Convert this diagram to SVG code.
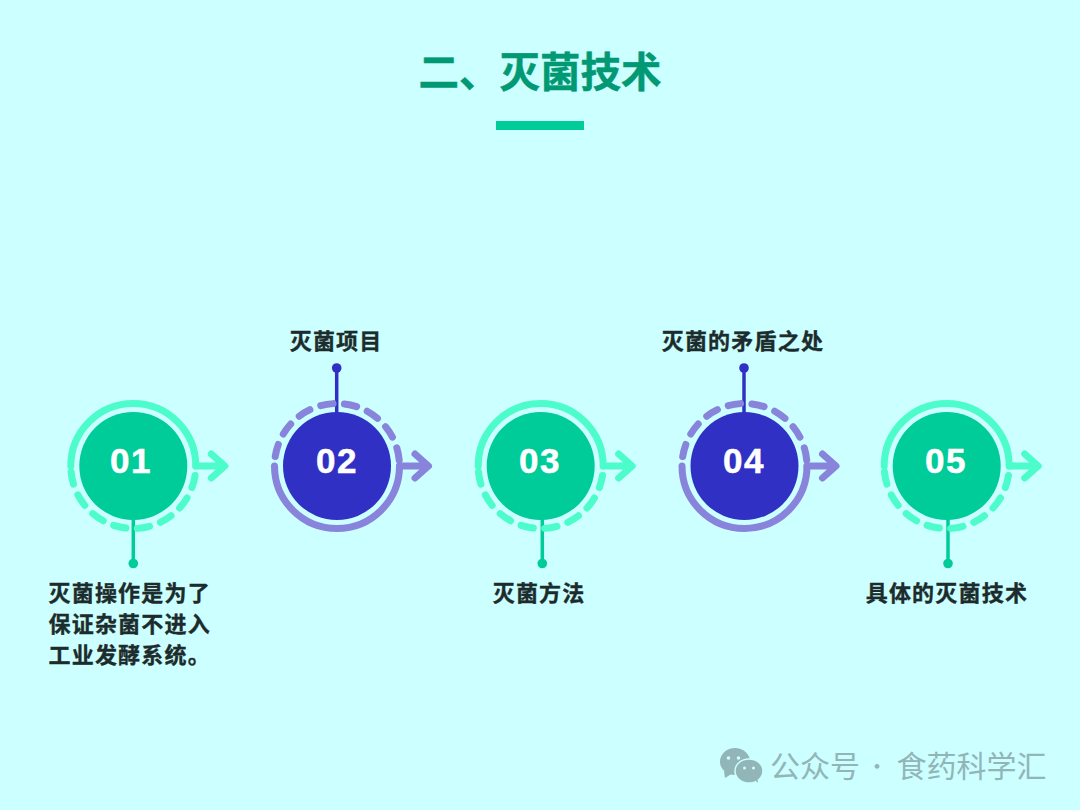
<svg xmlns="http://www.w3.org/2000/svg" width="1080" height="810" viewBox="0 0 1080 810">
<style>
text{font-family:"Noto Sans CJK SC","Noto Sans",sans-serif}
.title{font-size:40.500px;font-weight:700;fill:#009973;stroke:#009973;stroke-width:.5}
.lab{font-size:22px;font-weight:700;fill:#1c2b2b;stroke:#1c2b2b;stroke-width:.35;letter-spacing:1.200px}
.num{font-family:"Liberation Sans",Arimo,sans-serif;font-size:35px;font-weight:700;fill:#fff;stroke:#fff;stroke-width:.5;letter-spacing:1.500px;text-anchor:middle}
.mark{font-size:30px;fill:#92b5b8}
.ring{fill:none;stroke-width:7;stroke-linecap:round;stroke-linejoin:round}
.dash{stroke-dasharray:12.500 11.500;stroke-dashoffset:-9.500}
.g .ring{stroke:#4dfccb}.p .ring{stroke:#8884dc}
.g .disc,.g .dot{fill:#00cc99}.p .disc,.p .dot{fill:#3030c4}
.stem{stroke-width:3.500}.g .stem{stroke:#00cc99}.p .stem{stroke:#3030c4}
</style>
<defs>
<path id="arrow" d="M62.500,0H91M78,-12L91.500,0L78,12"/>
<path id="upper" d="M-62.500,0A62.500,62.500 0 0 1 62.500,0"/>
<path id="lower" d="M62.500,0A62.500,62.500 0 0 1 -62.500,0"/>
</defs>
<rect width="1080" height="810" fill="#ccffff"/>
<g id="title">
<text class="title" x="418.500" y="87">二、灭菌技术</text>
<rect x="496" y="121" width="88" height="9" fill="#00cc99"/>
</g>
<g id="connectors">
<g class="g"><line class="stem" x1="133.300" y1="518" x2="133.300" y2="563.500"/><circle class="dot" cx="133.300" cy="563.500" r="4.800"/></g>
<g class="p"><line class="stem" x1="336.700" y1="414" x2="336.700" y2="368"/><circle class="dot" cx="336.700" cy="368" r="4.800"/></g>
<g class="g"><line class="stem" x1="542.300" y1="518" x2="542.300" y2="563.500"/><circle class="dot" cx="542.300" cy="563.500" r="4.800"/></g>
<g class="p"><line class="stem" x1="744" y1="414" x2="744" y2="368"/><circle class="dot" cx="744" cy="368" r="4.800"/></g>
<g class="g"><line class="stem" x1="948" y1="518" x2="948" y2="563.500"/><circle class="dot" cx="948" cy="563.500" r="4.800"/></g>
</g>
<g id="node-01" class="g">
<g transform="translate(133.300,466)"><use href="#upper" class="ring"/><use href="#lower" class="ring dash"/><use href="#arrow" class="ring"/><circle class="disc" r="54"/></g>
<text class="num" x="131" y="473">01</text>
<text class="lab" x="48.500" y="601">灭菌操作是为了</text><text class="lab" x="48.500" y="632">保证杂菌不进入</text><text class="lab" x="48.500" y="663">工业发酵系统。</text>
</g>
<g id="node-02" class="p">
<g transform="translate(337,466)"><use href="#lower" class="ring"/><use href="#upper" class="ring dash"/><use href="#arrow" class="ring"/><circle class="disc" r="54"/></g>
<text class="num" x="337" y="473">02</text>
<text class="lab" x="289.700" y="349">灭菌项目</text>
</g>
<g id="node-03" class="g">
<g transform="translate(540.700,466)"><use href="#upper" class="ring"/><use href="#lower" class="ring dash"/><use href="#arrow" class="ring"/><circle class="disc" r="54"/></g>
<text class="num" x="540" y="473">03</text>
<text class="lab" x="492.700" y="601">灭菌方法</text>
</g>
<g id="node-04" class="p">
<g transform="translate(744.500,466)"><use href="#lower" class="ring"/><use href="#upper" class="ring dash"/><use href="#arrow" class="ring"/><circle class="disc" r="54"/></g>
<text class="num" x="744" y="473">04</text>
<text class="lab" x="661.700" y="349">灭菌的矛盾之处</text>
</g>
<g id="node-05" class="g">
<g transform="translate(946.700,466)"><use href="#upper" class="ring"/><use href="#lower" class="ring dash"/><use href="#arrow" class="ring"/><circle class="disc" r="54"/></g>
<text class="num" x="946" y="473">05</text>
<text class="lab" x="865.700" y="601">具体的灭菌技术</text>
</g>
<g id="watermark">
<ellipse cx="735" cy="761.500" rx="15" ry="13.500" fill="#92b5b8"/>
<path d="M724,771L725,778L733,773Z" fill="#92b5b8"/>
<ellipse cx="749" cy="771" rx="14" ry="12" fill="#92b5b8" stroke="#ccffff" stroke-width="1.500"/>
<path d="M754,779L758,783L757,776Z" fill="#92b5b8"/>
<circle cx="728.500" cy="758" r="1.800" fill="#ccffff"/><circle cx="738.500" cy="758" r="1.800" fill="#ccffff"/>
<circle cx="744.500" cy="768" r="1.500" fill="#ccffff"/><circle cx="753.500" cy="768" r="1.500" fill="#ccffff"/>
<text class="mark" x="770" y="777">公众号</text>
<text class="mark" x="877" y="774" text-anchor="middle" style="font-size:22px">·</text>
<text class="mark" x="896.500" y="777">食药科学汇</text>
</g>
</svg>
